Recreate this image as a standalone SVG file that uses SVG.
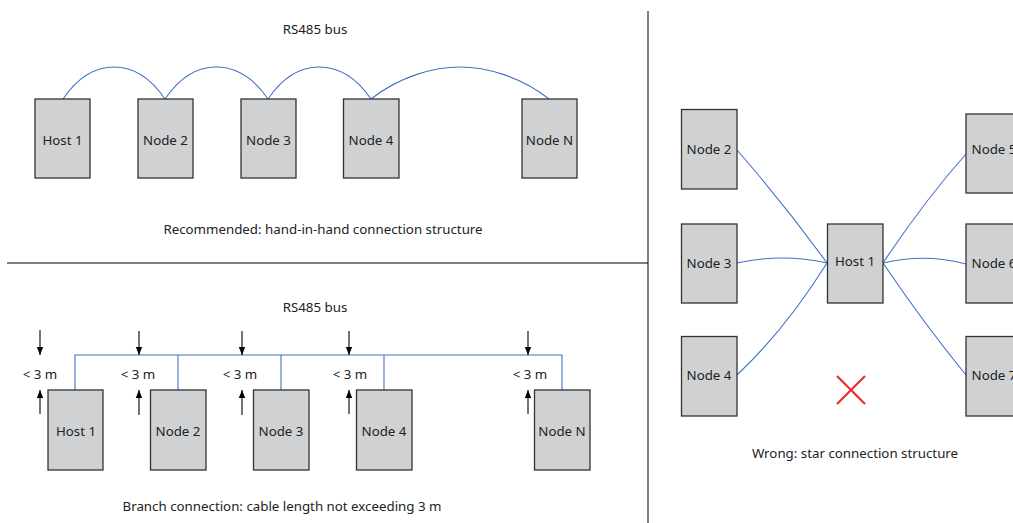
<svg xmlns="http://www.w3.org/2000/svg" width="1013" height="523" viewBox="0 0 1013 523">
<style>
.box{fill:#d0d1d3;stroke:#333;stroke-width:1.3}
.t{font-family:"Noto Sans","Liberation Sans",sans-serif;font-size:13.3px;fill:#222;text-anchor:middle}
.w{fill:none;stroke:#4472c4;stroke-width:1.1}
.a{stroke:#000;stroke-width:1.1;fill:none}
.d{stroke:#000;stroke-width:1}
</style>
<defs>
<marker id="ah" viewBox="0 0 8 8" refX="8" refY="4" markerWidth="8" markerHeight="8" markerUnits="userSpaceOnUse" orient="auto">
<path d="M0,0.8 L8,4 L0,7.2 Z" fill="#000"/>
</marker>
</defs>
<rect width="1013" height="523" fill="#fff"/>
<g id="dividers">
<line class="d" x1="648" y1="11" x2="648" y2="523"/>
<line class="d" x1="7" y1="263" x2="648" y2="263"/>
</g>
<g id="labels">
<text class="t" x="315" y="34">RS485 bus</text>
<text class="t" x="323" y="234">Recommended: hand-in-hand connection structure</text>
<text class="t" x="315" y="312">RS485 bus</text>
<text class="t" x="282" y="511">Branch connection: cable length not exceeding 3 m</text>
<text class="t" x="855" y="458">Wrong: star connection structure</text>
<text class="t" x="40" y="379">&lt; 3 m</text>
<text class="t" x="138" y="379">&lt; 3 m</text>
<text class="t" x="240" y="379">&lt; 3 m</text>
<text class="t" x="350" y="379">&lt; 3 m</text>
<text class="t" x="530" y="379">&lt; 3 m</text>
</g>
<g id="connectors">
<path class="w" d="M63,99 C80,74 98,67 114,67 C130,67 148,74 165,99"/>
<path class="w" d="M165,99 C182,74 200,67 216,67 C232,67 251,74 268,99"/>
<path class="w" d="M268,99 C285,74 303,67 319,67 C335,67 354,74 371,99"/>
<path class="w" d="M371,99 C400,76 435,67 460,67 C485,67 520,76 549,99"/>
<path class="w" d="M75,390 V355 H562 V390"/>
<path class="w" d="M178,355 V390"/>
<path class="w" d="M281,355 V390"/>
<path class="w" d="M384,355 V390"/>
<path class="w" d="M737,150 Q785,205 827,263"/>
<path class="w" d="M737,263 Q782,253 827,263"/>
<path class="w" d="M737,375 Q785,330 827,263"/>
<path class="w" d="M883,263 Q925,200 966,154"/>
<path class="w" d="M883,263 Q925,253 966,264"/>
<path class="w" d="M883,263 Q925,325 966,375"/>
</g>
<g id="arrows">
<line class="a" x1="40" y1="330" x2="40" y2="355" marker-end="url(#ah)"/>
<line class="a" x1="40" y1="414" x2="40" y2="390" marker-end="url(#ah)"/>
<line class="a" x1="139" y1="331" x2="139" y2="355" marker-end="url(#ah)"/>
<line class="a" x1="139" y1="415" x2="139" y2="390" marker-end="url(#ah)"/>
<line class="a" x1="242" y1="331" x2="242" y2="355" marker-end="url(#ah)"/>
<line class="a" x1="242" y1="415" x2="242" y2="390" marker-end="url(#ah)"/>
<line class="a" x1="349" y1="331" x2="349" y2="355" marker-end="url(#ah)"/>
<line class="a" x1="349" y1="414" x2="349" y2="390" marker-end="url(#ah)"/>
<line class="a" x1="528" y1="331" x2="528" y2="355" marker-end="url(#ah)"/>
<line class="a" x1="528" y1="414" x2="528" y2="390" marker-end="url(#ah)"/>
</g>
<g id="top-host1"><rect class="box" x="35" y="99" width="55" height="79"/><text class="t" x="62.5" y="145">Host 1</text></g>
<g id="top-node2"><rect class="box" x="138" y="99" width="55" height="79"/><text class="t" x="165.5" y="145">Node 2</text></g>
<g id="top-node3"><rect class="box" x="241" y="99" width="55" height="79"/><text class="t" x="268.5" y="145">Node 3</text></g>
<g id="top-node4"><rect class="box" x="343.5" y="99" width="55.5" height="79"/><text class="t" x="371" y="145">Node 4</text></g>
<g id="top-nodeN"><rect class="box" x="522" y="99" width="55" height="79"/><text class="t" x="549.5" y="145">Node N</text></g>
<g id="bot-host1"><rect class="box" x="48" y="390" width="55" height="80"/><text class="t" x="76" y="436">Host 1</text></g>
<g id="bot-node2"><rect class="box" x="150.5" y="390" width="55.5" height="80"/><text class="t" x="178" y="436">Node 2</text></g>
<g id="bot-node3"><rect class="box" x="253.5" y="390" width="55.5" height="80"/><text class="t" x="281" y="436">Node 3</text></g>
<g id="bot-node4"><rect class="box" x="356.5" y="390" width="55.5" height="80"/><text class="t" x="384" y="436">Node 4</text></g>
<g id="bot-nodeN"><rect class="box" x="534.5" y="390" width="55.5" height="80"/><text class="t" x="562" y="436">Node N</text></g>
<g id="star-node2"><rect class="box" x="681.5" y="109.5" width="55.5" height="79.5"/><text class="t" x="709" y="154">Node 2</text></g>
<g id="star-node3"><rect class="box" x="681.5" y="224" width="55.5" height="79"/><text class="t" x="709" y="268">Node 3</text></g>
<g id="star-node4"><rect class="box" x="681.5" y="336.5" width="55.5" height="79.5"/><text class="t" x="709" y="380">Node 4</text></g>
<g id="star-host1"><rect class="box" x="827.5" y="224" width="55.5" height="79"/><text class="t" x="855" y="266">Host 1</text></g>
<g id="star-node5"><rect class="box" x="966" y="114" width="55.5" height="79"/><text class="t" x="994" y="154">Node 5</text></g>
<g id="star-node6"><rect class="box" x="966" y="224" width="55.5" height="79"/><text class="t" x="994" y="268">Node 6</text></g>
<g id="star-node7"><rect class="box" x="966" y="336.5" width="55.5" height="79.5"/><text class="t" x="994" y="380">Node 7</text></g>
<g id="wrong-mark" stroke="#ee2a2a" stroke-width="2.2">
<line x1="837" y1="376" x2="865" y2="404"/>
<line x1="865" y1="376" x2="837" y2="404"/>
</g>
</svg>
